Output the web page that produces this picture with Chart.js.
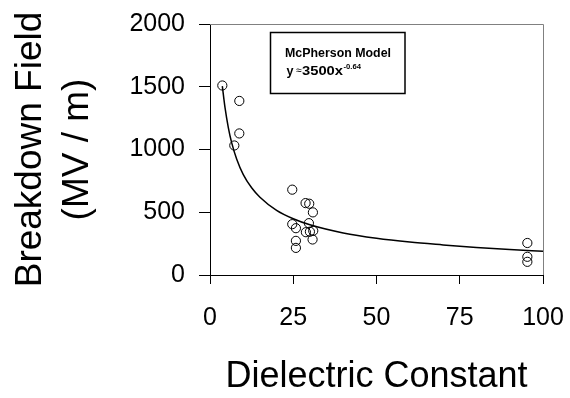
<!DOCTYPE html>
<html>
<head>
<meta charset="utf-8">
<script src="https://cdn.jsdelivr.net/npm/chart.js@4.4.1/dist/chart.umd.min.js"></script>
<style>
    html, body { margin: 0; padding: 0; background: #fff; }
</style>
</head>
<body>
<canvas id="myChart" width="570" height="398"></canvas>
<script>
// measured samples (dielectric constant vs breakdown field)
var dielectric = [3.7, 8.8, 8.8, 7.3, 24.7, 28.7, 29.8, 30.9, 24.7, 25.8, 29.7, 28.8, 30, 31, 30.8, 25.8, 25.8, 95.3, 95.3, 95.3];
var breakdown  = [1510, 1387, 1128, 1032, 680, 573, 568, 499, 405, 373, 413, 341, 345, 352, 283, 272, 216, 255, 145, 105];

// McPherson model curve
var fitX = [3.7, 4.5, 5.5, 6.5, 8, 10, 12.5, 15, 20, 25, 30, 40, 50, 60, 70, 80, 90, 100];
var fitY = [1505, 1335, 1175, 1055, 925, 800, 695, 620, 515, 448, 400, 335, 292, 262, 240, 220, 203, 190];

var xTicks = [0, 25, 50, 75, 100];
var yTicks = [0, 500, 1000, 1500, 2000];

var fontFamily = "'Liberation Sans', Arial, Helvetica, sans-serif";

function toPoints(xs, ys) {
    var out = [];
    for (var i = 0; i < xs.length; i++) {
        out.push({ x: xs[i], y: ys[i] });
    }
    return out;
}

// gray frame on top and right side
var framePlugin = {
    id: 'frame',
    afterDraw: function(chart) {
        var a = chart.chartArea;
        var ctx = chart.ctx;
        ctx.save();
        ctx.strokeStyle = '#808080';
        ctx.lineWidth = 1;
        ctx.beginPath();
        ctx.moveTo(a.left, a.top + 0.5);
        ctx.lineTo(a.right + 0.5, a.top + 0.5);
        ctx.lineTo(a.right + 0.5, a.bottom);
        ctx.stroke();
        ctx.restore();
    }
};

// text stretched to a given width
function wideText(ctx, text, x, y, w) {
    var m = ctx.measureText(text).width;
    ctx.save();
    ctx.translate(x, y);
    ctx.scale(w / m, 1);
    ctx.fillText(text, 0, 0);
    ctx.restore();
}

// model label box
var modelBox = {
    id: 'modelBox',
    afterDraw: function(chart) {
        var ctx = chart.ctx;
        ctx.save();
        ctx.strokeStyle = '#000';
        ctx.lineWidth = 1.5;
        ctx.strokeRect(270.5, 32.5, 134.5, 61);
        ctx.fillStyle = '#000';
        ctx.textBaseline = 'alphabetic';
        ctx.textAlign = 'left';
        ctx.font = 'bold 12.5px ' + fontFamily;
        wideText(ctx, 'McPherson Model', 285, 57, 106);

        ctx.font = 'bold 12px ' + fontFamily;
        wideText(ctx, 'y', 286.5, 75, 7);
        ctx.font = '11px ' + fontFamily;
        wideText(ctx, '\u2248', 296, 74, 5.5);
        ctx.font = 'bold 12px ' + fontFamily;
        wideText(ctx, '3500x', 302, 75, 41);
        ctx.font = 'bold 7.5px ' + fontFamily;
        wideText(ctx, '-0.64', 343.5, 69, 17.5);
        ctx.restore();
    }
};

var ctx = document.getElementById('myChart').getContext('2d');
var myChart = new Chart(ctx, {
    type: 'scatter',
    data: {
        datasets: [{
            label: 'data',
            data: toPoints(dielectric, breakdown),
            showLine: false,
            pointRadius: 4.6,
            pointBorderWidth: 1,
            pointBorderColor: '#000',
            pointBackgroundColor: 'rgba(0,0,0,0)'
        },
        {
            label: 'McPherson Model',
            data: toPoints(fitX, fitY),
            showLine: true,
            pointRadius: 0,
            borderColor: '#000',
            borderWidth: 1.5,
            cubicInterpolationMode: 'monotone'
        }]
    },
    options: {
        responsive: false,
        animation: false,
        layout: {
            padding: { top: 24, right: 27, left: 0, bottom: 0 }
        },
        plugins: {
            legend: { display: false },
            tooltip: { enabled: false }
        },
        scales: {
            x: {
                type: 'linear',
                min: 0,
                max: 100,
                afterBuildTicks: function(scale) {
                    scale.ticks = xTicks.map(function(v) { return { value: v }; });
                },
                afterFit: function(scale) {
                    scale.height = 123;
                    scale.paddingLeft = 0;
                    scale.paddingRight = 0;
                },
                grid: { drawOnChartArea: false, drawTicks: true, tickLength: 9, color: '#000' },
                border: { display: true, color: '#000', width: 1 },
                ticks: {
                    color: '#000',
                    padding: 19,
                    maxRotation: 0,
                    callback: function(v) { return String(v); },
                    font: { family: fontFamily, size: 25 }
                },
                title: {
                    display: true,
                    text: 'Dielectric Constant',
                    color: '#000',
                    padding: { top: 0, bottom: 0 },
                    font: { family: fontFamily, size: 36, lineHeight: 1.15 }
                }
            },
            y: {
                type: 'linear',
                min: 0,
                max: 2000,
                afterBuildTicks: function(scale) {
                    scale.ticks = yTicks.map(function(v) { return { value: v }; });
                },
                afterFit: function(scale) {
                    scale.width = 210;
                    scale.paddingTop = 0;
                    scale.paddingBottom = 0;
                },
                grid: { drawOnChartArea: false, drawTicks: true, tickLength: 11, color: '#000' },
                border: { display: true, color: '#000', width: 1 },
                ticks: {
                    color: '#000',
                    padding: 14,
                    callback: function(v) { return String(v); },
                    font: { family: fontFamily, size: 25 }
                },
                title: {
                    display: true,
                    text: ['Breakdown Field', '(MV / m)'],
                    color: '#000',
                    padding: { top: 7, bottom: 0 },
                    font: { family: fontFamily, size: 37, lineHeight: 1.28 }
                }
            }
        }
    },
    plugins: [framePlugin, modelBox]
});
</script>
</body>
</html>
